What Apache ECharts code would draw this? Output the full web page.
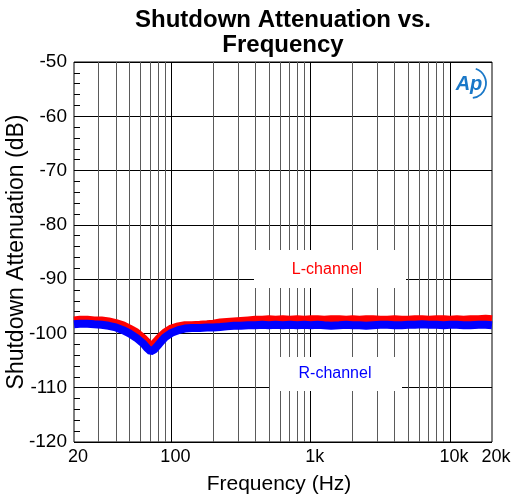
<!DOCTYPE html>
<html>
<head>
<meta charset="utf-8">
<script src="https://cdn.jsdelivr.net/npm/echarts@6/dist/echarts.min.js"></script>
<style>html,body{margin:0;padding:0;background:#fff}#c{width:512px;height:495px}</style>
</head>
<body>
<div id="c"></div>
<script>
var freqs = [20,22,25,28,31.5,35.5,40,45,50,56,63,67,71,75,80,85,90,100,112,125,140,160,180,200,224,250,280,315,355,400,450,500,560,630,710,800,900,1000,1120,1250,1400,1600,1800,2000,2240,2500,2800,3150,3550,4000,4500,5000,5600,6300,7100,8000,9000,10000,11200,12500,14000,16000,18000,20000];
var lChannel = [-97.6,-97.5,-97.5,-97.6,-97.6,-97.8,-98.1,-98.5,-99.1,-99.8,
  -100.9,-101.6,-102.3,-101.9,-101.1,-100.4,-99.8,-99.1,-98.7,-98.5,
  -98.5,-98.4,-98.3,-98.2,-98.0,-97.9,-97.8,-97.7,-97.6,-97.5,
  -97.5,-97.4,-97.5,-97.4,-97.5,-97.4,-97.5,-97.4,-97.4,-97.5,
  -97.4,-97.4,-97.5,-97.4,-97.5,-97.4,-97.4,-97.5,-97.5,-97.4,
  -97.5,-97.5,-97.4,-97.4,-97.5,-97.4,-97.4,-97.5,-97.4,-97.5,
  -97.4,-97.4,-97.3,-97.4];
var rChannel = [-98.3,-98.2,-98.2,-98.3,-98.4,-98.6,-98.9,-99.4,-100.0,-100.8,
  -101.9,-102.7,-103.3,-103.0,-102.2,-101.4,-100.7,-99.9,-99.4,-99.1,
  -99.0,-99.0,-98.9,-98.9,-98.8,-98.7,-98.6,-98.6,-98.5,-98.5,
  -98.4,-98.5,-98.4,-98.5,-98.4,-98.5,-98.4,-98.5,-98.4,-98.5,
  -98.6,-98.5,-98.4,-98.5,-98.5,-98.6,-98.5,-98.4,-98.4,-98.5,
  -98.5,-98.4,-98.4,-98.3,-98.4,-98.4,-98.5,-98.4,-98.4,-98.5,
  -98.5,-98.4,-98.4,-98.5];
var xTickLabels = [20,100,1000,10000,20000];
var minorGrid = [30,40,50,60,70,80,90,200,300,400,500,600,700,800,900,2000,3000,4000,5000,6000,7000,8000,9000];
var majorGrid = [100,1000,10000];
var titleText = 'Shutdown Attenuation vs.\nFrequency';
var xName = 'Frequency (Hz)';
var yName = 'Shutdown Attenuation (dB)';

function pairs(ys){ return freqs.map(function(f,i){ return [f, ys[i]]; }); }
function fmtHz(v){ return v >= 1000 ? (v/1000) + 'k' : String(v); }

var FONT = 'Liberation Sans, Arial, sans-serif';
var chart = echarts.init(document.getElementById('c'));
var gridLines = minorGrid.map(function(v){ return {xAxis: v, lineStyle:{color:'#5a5a5a', width:1, type:'solid'}}; })
  .concat(majorGrid.map(function(v){ return {xAxis: v, lineStyle:{color:'#000', width:1, type:'solid'}}; }));

chart.setOption({
  animation: false,
  backgroundColor: '#fff',
  grid: {left: 74, right: 20, top: 62, bottom: 53, containLabel: false, outerBoundsMode: 'none', show: true, borderColor: '#000', borderWidth: 1, backgroundColor: 'transparent'},
  xAxis: {
    type: 'log', logBase: 10, min: 20, max: 20000,
    name: xName, nameLocation: 'middle', nameGap: 32,
    nameTextStyle: {fontSize: 21, color: '#000', fontFamily: FONT, padding: [0, 8, 0, 0]},
    axisLine: {show: false},
    axisTick: {show: false},
    splitLine: {show: false},
    minorTick: {show: false},
    minorSplitLine: {show: false},
    axisLabel: {customValues: xTickLabels, formatter: fmtHz, fontSize: 18, color: '#000', fontFamily: FONT, margin: 6, padding: [0, 0, 0, 8]}
  },
  yAxis: {
    type: 'value', min: -120, max: -50, interval: 10,
    name: yName, nameLocation: 'middle', nameGap: 46, nameMoveOverlap: false,
    nameTextStyle: {fontSize: 23, color: '#000', fontFamily: FONT},
    axisLine: {show: false},
    axisTick: {show: true, inside: true, length: 6, lineStyle: {color: '#000'}},
    minorTick: {show: true, splitNumber: 5, length: 6, lineStyle: {color: '#000'}},
    splitLine: {show: true, lineStyle: {color: '#000', width: 1}},
    axisLabel: {fontSize: 19, color: '#000', fontFamily: FONT, margin: 7}
  },
  graphic: [
    {type: 'text', x: 283, y: 8, z: 10, style: {text: titleText, textAlign: 'center', font: 'bold 24px ' + FONT, fill: '#000', lineHeight: 25}},
    {type: 'rect', shape: {x: 254, y: 250, width: 152, height: 38}, style: {fill: '#fff'}, z: 1.5, silent: true},
    {type: 'text', x: 327, y: 270, z: 10, style: {text: 'L-channel', textAlign: 'center', textVerticalAlign: 'middle', font: '16px ' + FONT, fill: '#ff0000'}},
    {type: 'rect', shape: {x: 270, y: 357, width: 132, height: 34}, style: {fill: '#fff'}, z: 1.5, silent: true},
    {type: 'text', x: 335, y: 374, z: 10, style: {text: 'R-channel', textAlign: 'center', textVerticalAlign: 'middle', font: '16px ' + FONT, fill: '#0000ff'}},
    {type: 'rect', shape: {x: 451, y: 63, width: 40, height: 44}, style: {fill: '#fff'}, z: 1.5, silent: true},
    {type: 'text', x: 469, y: 84, z: 10, style: {text: 'Ap', textAlign: 'center', textVerticalAlign: 'middle', font: 'italic bold 20px ' + FONT, fill: '#1a78c8'}},
    {type: 'arc', shape: {cx: 471, cy: 83, r: 15, startAngle: -1.25, endAngle: 1.45}, style: {stroke: '#1a78c8', lineWidth: 1.8, fill: null}, z: 10}
  ],
  series: [
    {type: 'line', z: 1, silent: true, data: [], markLine: {z: 1, silent: true, symbol: ['none','none'], label: {show: false}, animation: false, data: gridLines}},
    {name: 'L-channel', type: 'line', z: 3, data: pairs(lChannel), symbol: 'none', lineStyle: {color: '#ff0000', width: 8}, smooth: false},
    {name: 'R-channel', type: 'line', z: 4, data: pairs(rChannel), symbol: 'none', lineStyle: {color: '#0000ff', width: 8}, smooth: false}
  ]
});
</script>
</body>
</html>
